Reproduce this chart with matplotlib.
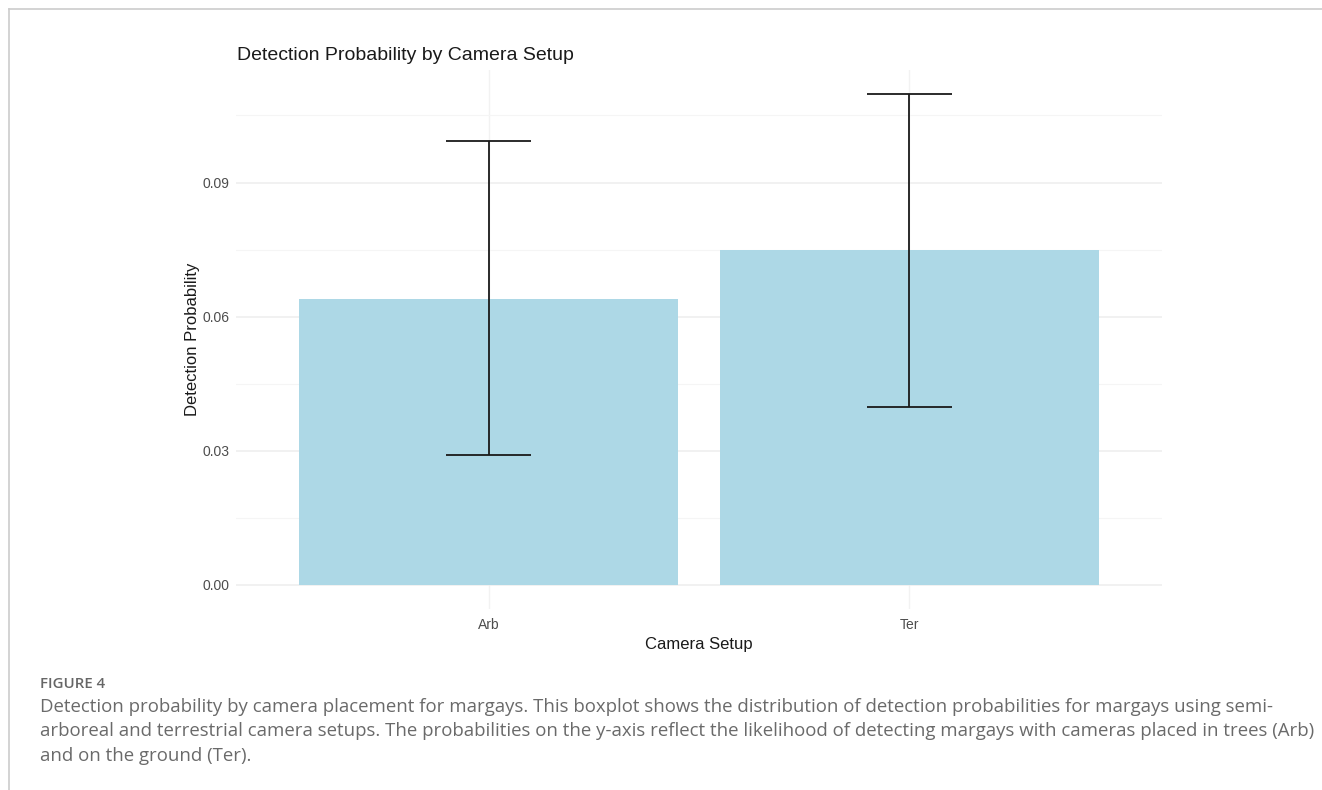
"""Detection probability by camera setup (margays), bar chart with error bars."""

import matplotlib

matplotlib.use("Agg")
import matplotlib.pyplot as plt
from matplotlib.lines import Line2D
import numpy as np

SETUPS = ["Arb", "Ter"]
MEAN_PROB = [0.0640, 0.0748]
LOWER_CI = [0.0291, 0.0398]
UPPER_CI = [0.0992, 0.1097]
Y_TICKS = [0.00, 0.03, 0.06, 0.09]
Y_MINOR = [0.015, 0.045, 0.075, 0.105]

CAPTION_LINES = [
    "Detection probability by camera placement for margays. This boxplot shows the distribution of detection probabilities for margays using semi-",
    "arboreal and terrestrial camera setups. The probabilities on the y-axis reflect the likelihood of detecting margays with cameras placed in trees (Arb)",
    "and on the ground (Ter).",
]

BAR_COLOR = "#add8e6"
GRID_MAJOR = "#eeeeee"
GRID_MINOR = "#f5f5f5"
TICK_COLOR = "#4d4d4d"

plt.rcParams["font.family"] = ["Liberation Sans", "DejaVu Sans"]


def main() -> None:
    fig = plt.figure(figsize=(13.22, 7.90), dpi=100)
    ax = fig.add_axes([0.1785, 0.2285, 0.7005, 0.683])

    x = np.arange(1, len(SETUPS) + 1)
    ax.bar(x, MEAN_PROB, width=0.9, color=BAR_COLOR, edgecolor="none", zorder=2)

    # error bars drawn ggplot-style: vertical line plus caps of width 0.2
    for xi, lo, hi in zip(x, LOWER_CI, UPPER_CI):
        ax.vlines(xi, lo, hi, color="#1a1a1a", linewidth=1.3, zorder=3)
        ax.hlines([lo, hi], xi - 0.1, xi + 0.1, color="#1a1a1a", linewidth=1.3, zorder=3)

    # ggplot default expansion
    ax.set_xlim(0.4, len(SETUPS) + 0.6)
    top = max(UPPER_CI)
    ax.set_ylim(-0.05 * top, top * 1.05)

    ax.set_xticks(x)
    ax.set_xticklabels(SETUPS)
    ax.set_yticks(Y_TICKS)
    ax.set_yticklabels([f"{t:.2f}" for t in Y_TICKS])
    ax.set_yticks(Y_MINOR, minor=True)
    ax.tick_params(axis="both", which="both", length=0, labelsize=10, labelcolor=TICK_COLOR)
    ax.tick_params(axis="y", pad=5)
    ax.tick_params(axis="x", pad=6)

    ax.grid(True, which="major", axis="y", color=GRID_MAJOR, linewidth=1.1, zorder=0)
    ax.grid(True, which="major", axis="x", color="#f2f2f2", linewidth=1.0, zorder=0)
    ax.grid(True, which="minor", axis="y", color=GRID_MINOR, linewidth=0.8, zorder=0)
    ax.set_axisbelow(True)
    for spine in ax.spines.values():
        spine.set_visible(False)

    ax.set_xlabel("Camera Setup", fontsize=12, color="#1a1a1a", labelpad=4)
    ax.set_ylabel("Detection Probability", fontsize=12, color="#1a1a1a", labelpad=1.5)
    fig.text(0.179, 0.924, "Detection Probability by Camera Setup", fontsize=14,
             color="#1a1a1a", ha="left", va="baseline")

    # frame lines from the journal page
    fig.add_artist(Line2D([9 / 1322, 9 / 1322], [0, 1 - 9 / 790], transform=fig.transFigure,
                          color="#cccccc", linewidth=1.2))
    fig.add_artist(Line2D([9 / 1322, 1], [1 - 9 / 790, 1 - 9 / 790], transform=fig.transFigure,
                          color="#cccccc", linewidth=1.2))

    fig.text(40 / 1322, 1 - 684 / 790, "FIGURE 4", fontsize=10.8, color="#666666",
             family=["Open Sans", "DejaVu Sans"], weight="semibold", ha="left", va="center")
    for i, line in enumerate(CAPTION_LINES):
        fig.text(40 / 1322, 1 - (707 + 24.5 * i) / 790, line, fontsize=13.4, color="#6a6a6a",
                 family=["Open Sans", "DejaVu Sans"], ha="left", va="center")

    fig.savefig("out.png", dpi=100)
    plt.close(fig)


if __name__ == "__main__":
    main()
